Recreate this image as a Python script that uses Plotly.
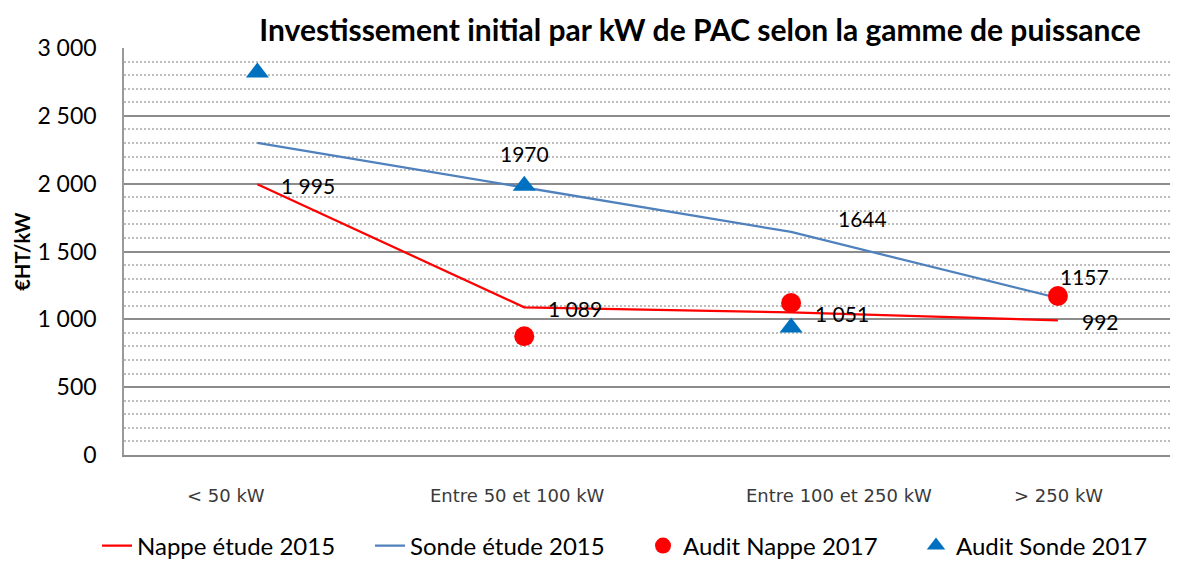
import plotly.graph_objects as go

categories = ["< 50 kW", "Entre 50 et 100 kW", "Entre 100 et 250 kW", "> 250 kW"]
nappe_2015 = [1995, 1089, 1051, 992]
sonde_2015 = [2300, 1970, 1644, 1157]
audit_nappe_2017 = [None, 875, 1120, 1172]
audit_sonde_2017 = [2820, 1985, 940, None]

nappe_labels = ["1 995", "1 089", "1 051", "992"]
sonde_labels = [None, "1970", "1644", "1157"]

y_ticks = [0, 500, 1000, 1500, 2000, 2500, 3000]
y_ticktext = ["0", "500", "1 000", "1 500", "2 000", "2 500", "3 000"]

FONT = "Lato"
xi = list(range(len(categories)))
W, H = 1170, 554  # page body adds an 8px offset
ML, MT, MB = 116, 40, 107
PW, PH = W - ML, H - MT - MB

fig = go.Figure()
fig.add_trace(go.Scatter(x=xi, y=nappe_2015, mode="lines", name="Nappe étude 2015",
                         line=dict(color="#FF0000", width=2.25)))
fig.add_trace(go.Scatter(x=xi, y=sonde_2015, mode="lines", name="Sonde étude 2015",
                         line=dict(color="#4F81BD", width=2.25)))
fig.add_trace(go.Scatter(x=xi, y=audit_nappe_2017, mode="markers", name="Audit Nappe 2017",
                         marker=dict(color="#FF0000", size=20, symbol="circle")))
fig.add_trace(go.Scatter(x=xi, y=audit_sonde_2017, mode="markers", name="Audit Sonde 2017",
                         marker=dict(color="#0070C0", size=20, symbol="triangle-up")))

ann = []
for i, (v, t) in enumerate(zip(nappe_2015, nappe_labels)):
    ann.append(dict(x=i, y=v, text=t, xanchor="left", yanchor="middle", xshift=22, yshift=-1,
                    showarrow=False, font=dict(family=FONT, size=21, color="#000")))
sonde_shift = [None, (0, 34), (71, 13), (27, 22)]
for i, (v, t) in enumerate(zip(sonde_2015, sonde_labels)):
    if t is None:
        continue
    dx, dy = sonde_shift[i]
    ann.append(dict(x=i, y=v, text=t, xanchor="center", yanchor="middle", xshift=dx, yshift=dy,
                    showarrow=False, font=dict(family=FONT, size=21, color="#000")))
# category labels placed under the axis
cat_shift = [-31, -7, 48, 1]
for i, c in enumerate(categories):
    ann.append(dict(x=i, y=0, text=c, xanchor="center", yanchor="middle", xshift=cat_shift[i],
                    yshift=-40, showarrow=False,
                    font=dict(family="DejaVu Sans", size=18, color="#3a3a3a")))

fig.update_layout(
    width=W, height=H,
    margin=dict(l=ML, r=0, t=MT, b=MB, autoexpand=False),
    paper_bgcolor="white", plot_bgcolor="white",
    font=dict(family=FONT, color="#000"),
    title=dict(text="<b>Investissement initial par kW de PAC selon la gamme de puissance</b>",
               x=0.5465, xanchor="center", xref="paper", y=1 - 22 / H, yanchor="middle",
               font=dict(family=FONT, size=30, color="#000")),
    showlegend=True,
    legend=dict(orientation="h", x=(89 - ML) / PW, xanchor="left", xref="paper",
                y=-(538 - (MT + PH)) / PH, yanchor="middle", yref="paper",
                font=dict(family=FONT, size=24, color="#000"), itemwidth=30,
                entrywidth=228, entrywidthmode="pixels",
                traceorder="normal"),
    annotations=ann,
)
fig.update_xaxes(range=[-0.5, 3.45], showticklabels=False, showgrid=False, zeroline=False,
                 showline=True, linecolor="#8c8c8c", linewidth=2, ticks="", fixedrange=True,
                 automargin=False)
fig.update_yaxes(range=[0, 3000], tickvals=y_ticks, ticktext=y_ticktext,
                 tickfont=dict(family=FONT, size=23, color="#000"),
                 showgrid=True, gridcolor="#8c8c8c", gridwidth=1.5, zeroline=False,
                 showline=True, linecolor="#9a9a9a", linewidth=1.5, ticks="", ticklabelstandoff=21,
                 automargin=False,
                 minor=dict(dtick=100, showgrid=True, gridcolor="#bdbdbd", gridwidth=1.5, griddash="2px,2px"),
                 title=dict(text="<b>€HT/kW</b>", font=dict(family=FONT, size=20, color="#000"), standoff=1))

fig.write_html("out.html")
